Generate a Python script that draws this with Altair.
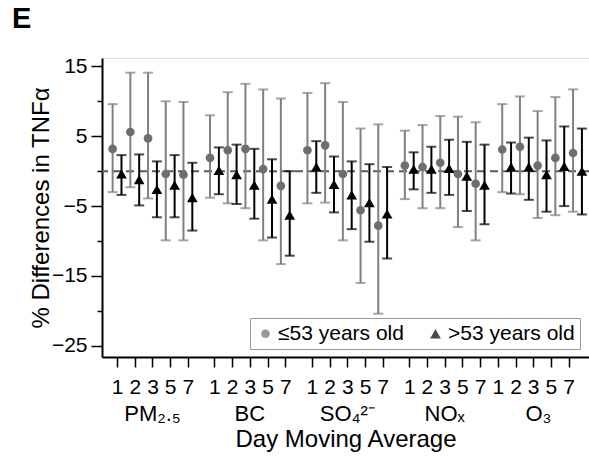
import altair as alt
import pandas as pd

# ---- data ----
pollutants = ["PM₂.₅", "BC", "SO₄²⁻", "NOₓ", "O₃"]
days = ["1", "2", "3", "5", "7"]
ages = ["≤53 years old", ">53 years old"]

# estimates, lower, upper  (per pollutant, per day)
young_est = [[3.2, 5.6, 4.7, -0.4, -0.5],
             [1.9, 3.0, 3.2, 0.3, -2.1],
             [3.0, 3.7, -0.4, -5.6, -7.8],
             [0.8, 0.6, 1.2, -0.4, -1.8],
             [3.1, 3.5, 0.8, 1.9, 2.6]]
young_lo = [[-3.0, -2.3, -3.9, -9.9, -9.9],
            [-3.8, -4.6, -5.3, -9.9, -13.3],
            [-4.6, -4.5, -9.9, -16.0, -20.4],
            [-4.0, -5.3, -5.3, -8.0, -9.9],
            [-3.0, -3.3, -6.7, -6.3, -5.8]]
young_hi = [[9.6, 14.1, 14.1, 10.0, 9.9],
            [8.0, 11.3, 12.5, 11.7, 10.4],
            [11.2, 12.6, 9.9, 6.1, 6.7],
            [5.8, 6.6, 7.9, 7.8, 7.0],
            [9.6, 10.7, 8.6, 10.6, 11.7]]
old_est = [[-0.4, -1.2, -2.6, -2.0, -3.8],
           [0.1, -0.5, -2.0, -4.0, -6.3],
           [0.6, -1.9, -3.4, -4.5, -6.1],
           [0.3, 0.3, 0.4, -0.7, -2.0],
           [0.6, 0.6, -0.5, 0.7, 0.0]]
old_lo = [[-3.4, -4.9, -6.6, -6.6, -8.5],
          [-3.3, -4.7, -6.8, -9.5, -12.1],
          [-3.1, -5.9, -8.3, -10.1, -12.5],
          [-2.6, -3.1, -3.4, -5.7, -7.6],
          [-3.2, -4.1, -5.8, -5.0, -6.2]]
old_hi = [[2.3, 2.4, 1.4, 2.3, 1.2],
          [3.4, 3.8, 3.2, 1.7, 0.0],
          [4.3, 2.1, 1.4, 1.0, 0.6],
          [2.7, 3.5, 4.5, 4.2, 3.8],
          [4.1, 4.8, 4.4, 6.4, 6.1]]

# layout of the categorical axis (slot units)
group_start = [0, 5.5, 11, 16.5, 22]
tick_group_start = [0, 5.5, 11, 16.5, 21.5]   # reference's tick labels run on without a gap for O3
group_label_pos = [2, 7.5, 13, 18.5, 23.8]
offset = 0.25
bar_colors = ["#808080", "#000000"]

rows = []
for gi, pol in enumerate(pollutants):
    for di, d in enumerate(days):
        base = group_start[gi] + di
        rows.append(dict(pos=base - offset, age=ages[0], est=young_est[gi][di],
                         lo=young_lo[gi][di], hi=young_hi[gi][di], bc=bar_colors[0]))
        rows.append(dict(pos=base + offset, age=ages[1], est=old_est[gi][di],
                         lo=old_lo[gi][di], hi=old_hi[gi][di], bc=bar_colors[1]))
df = pd.DataFrame(rows)

tick_vals = []
tick_map = {}
for gi in range(len(pollutants)):
    for di, d in enumerate(days):
        v = tick_group_start[gi] + di
        tick_vals.append(v)
        tick_map[f"{v:g}"] = d
label_expr = "{" + ",".join(f"'{k}':'{v}'" for k, v in tick_map.items()) + "}['' + datum.value]"

FONT = "Liberation Sans"
W, H = 487, 299
XDOM = [-0.85, 26.65]
YDOM = [-26.6, 16.2]

xscale = alt.Scale(domain=XDOM, nice=False, zero=False)
yscale = alt.Scale(domain=YDOM, nice=False, zero=False)
cscale = alt.Scale(domain=ages, range=["#6e6e6e", "#000000"])
sscale = alt.Scale(domain=ages, range=["circle", "triangle-up"])
zscale = alt.Scale(domain=ages, range=[75, 115])

xaxis = alt.Axis(values=tick_vals, labelExpr=label_expr, title="Day Moving Average",
                 grid=False, labelFont=FONT, labelFontSize=21, labelColor="black",
                 labelPadding=9, tickSize=10, tickColor="black", tickWidth=1.5,
                 domainColor="black", domainWidth=2, labelOverlap=False,
                 labelFlush=False, labelBound=False,
                 titleFont=FONT, titleFontSize=24, titleFontWeight="normal",
                 titleColor="black", titleY=89, titleBaseline="alphabetic")
yaxis = alt.Axis(values=[15, 10, 5, 0, -5, -10, -15, -20, -25],
                 labelExpr="(datum.value % 10 === 0) ? '' : datum.label",
                 title="% Differences in TNFα", grid=False, labelFont=FONT,
                 labelFontSize=21, labelColor="black", labelPadding=4, labelOverlap=False,
                 tickSize={"condition": {"test": "datum.value % 10 === 0", "value": 5}, "value": 11},
                 tickColor="black", tickWidth=1.5, domainColor="black", domainWidth=2,
                 titleFont=FONT, titleFontSize=24, titleFontWeight="normal",
                 titleColor="black", titleX=-54, titleBaseline="alphabetic")

X = lambda: alt.X("pos:Q", scale=xscale, axis=xaxis)

base = alt.Chart(df)

zero = alt.Chart(pd.DataFrame({"y": [0]})).mark_rule(
    color="#5a5a5a", strokeWidth=2, strokeDash=[8, 5]).encode(
    y=alt.Y("y:Q", scale=yscale, axis=yaxis))

rules = base.mark_rule(strokeWidth=2).encode(
    x=X(), y=alt.Y("lo:Q", scale=yscale, axis=yaxis), y2="hi:Q",
    color=alt.Color("bc:N", scale=None))

caps_lo = base.mark_tick(thickness=2, size=10, orient="horizontal").encode(
    x=X(), y=alt.Y("lo:Q", scale=yscale, axis=yaxis),
    color=alt.Color("bc:N", scale=None))
caps_hi = base.mark_tick(thickness=2, size=10, orient="horizontal").encode(
    x=X(), y=alt.Y("hi:Q", scale=yscale, axis=yaxis),
    color=alt.Color("bc:N", scale=None))

leg = alt.Legend(
    title=None, orient="none", legendX=148, legendY=260, direction="horizontal",
    labelFont=FONT, labelFontSize=21, labelColor="black", symbolSize=60,
    symbolStrokeWidth=0, labelOffset=2, columnPadding=21, padding=5,
    strokeColor="#999999", fillColor="white")

points = base.mark_point(filled=True, opacity=1).encode(
    x=X(), y=alt.Y("est:Q", scale=yscale, axis=yaxis),
    color=alt.Color("age:N", scale=cscale, legend=leg),
    shape=alt.Shape("age:N", scale=sscale, legend=leg),
    size=alt.Size("age:N", scale=zscale, legend=None))

glabels = alt.Chart(pd.DataFrame({"pos": group_label_pos, "lab": pollutants})).mark_text(
    font=FONT, fontSize=22, color="black", baseline="alphabetic", align="center").encode(
    x=X(), y=alt.value(H + 64), text="lab:N")

chart = alt.layer(zero, rules, caps_lo, caps_hi, points, glabels).properties(
    width=W, height=H,
    autosize=alt.AutoSizeParams(type="none"),
    padding={"left": 102, "top": 58, "right": 0, "bottom": 104},
    title=alt.TitleParams("E", anchor="start", frame="group", font=FONT, fontSize=29,
                          fontWeight="bold", color="black", dx=-90, offset=21),
).configure_view(stroke=None).configure_axis(labelOverlap=False).configure(background="white")

chart.save("out.html", embed_options={"renderer": "svg", "actions": False})
